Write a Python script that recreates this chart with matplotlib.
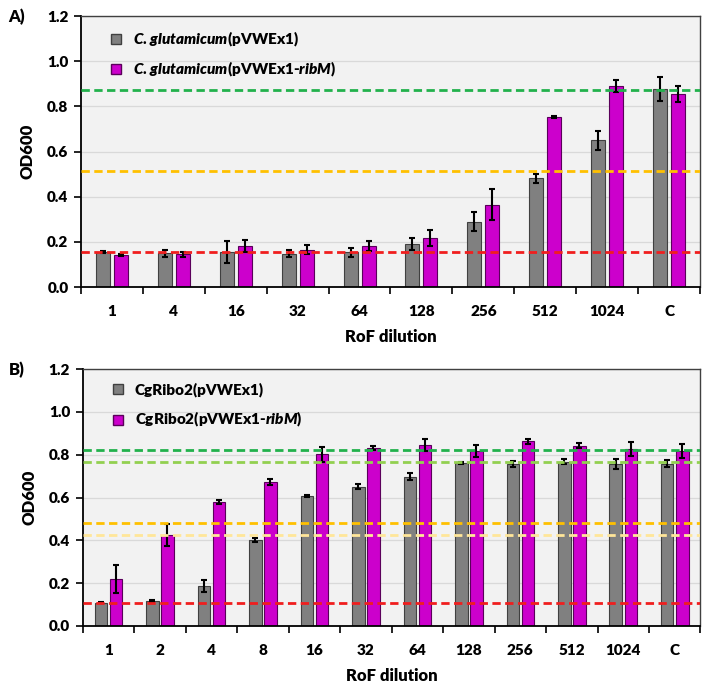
import numpy as np
import matplotlib.pyplot as plt
from matplotlib.lines import Line2D

plt.rcParams["font.family"] = ["Lato", "DejaVu Sans"]
plt.rcParams["font.weight"] = "heavy"
plt.rcParams["axes.labelweight"] = "heavy"
plt.rcParams["mathtext.fontset"] = "custom"
plt.rcParams["mathtext.it"] = "Lato:italic:heavy"
plt.rcParams["mathtext.rm"] = "Lato:heavy"

# panel A data
cats_a = ["1", "4", "16", "32", "64", "128", "256", "512", "1024", "C"]
ctrl_a = [0.155, 0.15, 0.155, 0.148, 0.155, 0.19, 0.29, 0.481, 0.649, 0.876]
ctrl_a_err = [0.005, 0.015, 0.05, 0.017, 0.02, 0.026, 0.04, 0.02, 0.043, 0.054]
ribm_a = [0.141, 0.145, 0.182, 0.166, 0.181, 0.218, 0.364, 0.754, 0.889, 0.855]
ribm_a_err = [0.005, 0.012, 0.028, 0.02, 0.023, 0.035, 0.068, 0.005, 0.027, 0.037]
hlines_a = [0.874, 0.514, 0.153]
hcolors_a = ["#22b14c", "#ffc000", "#f01e1e"]

# panel B data
cats_b = ["1", "2", "4", "8", "16", "32", "64", "128", "256", "512", "1024", "C"]
ctrl_b = [0.109, 0.115, 0.187, 0.402, 0.606, 0.651, 0.698, 0.76, 0.757, 0.768, 0.757, 0.757]
ctrl_b_err = [0.003, 0.005, 0.027, 0.008, 0.005, 0.01, 0.016, 0.005, 0.014, 0.012, 0.022, 0.016]
ribm_b = [0.218, 0.425, 0.578, 0.673, 0.801, 0.831, 0.846, 0.815, 0.862, 0.842, 0.827, 0.817]
ribm_b_err = [0.065, 0.05, 0.008, 0.015, 0.034, 0.01, 0.027, 0.028, 0.01, 0.012, 0.034, 0.034]
hlines_b = [0.823, 0.764, 0.48, 0.425, 0.106]
hcolors_b = ["#22b14c", "#92d050", "#ffc000", "#ffe699", "#f01e1e"]

GRAY = "#808080"
MAG = "#cc00cc"


def draw_panel(ax, cats, ctrl, ctrl_err, ribm, ribm_err, hl, hc, labels, width, off, lspace):
    x = np.arange(len(cats))
    ax.set_facecolor("#f2f2f2")
    ax.set_axisbelow(True)
    ax.grid(axis="y", color="#d9d9d9", linewidth=0.9)
    ek = dict(ecolor="black", elinewidth=1.5, capsize=2.5, capthick=1.5)
    ax.bar(x - off, ctrl, width, yerr=ctrl_err, color=GRAY, edgecolor="#404040",
           linewidth=0.8, error_kw=ek, zorder=2)
    ax.bar(x + off, ribm, width, yerr=ribm_err, color=MAG, edgecolor="#5a005a",
           linewidth=0.8, error_kw=ek, zorder=2)
    for v, c in zip(hl, hc):
        ax.axhline(v, color=c, linestyle=(0, (3, 1.6)), linewidth=2, zorder=3)
    ax.set_xlim(-0.5, len(cats) - 0.5)
    ax.set_ylim(0, 1.2)
    ax.set_yticks(np.arange(0, 1.21, 0.2))
    ax.set_yticklabels([f"{v:.1f}" for v in np.arange(0, 1.21, 0.2)], fontsize=11)
    ax.set_xticks(x)
    ax.set_xticklabels(cats, fontsize=11)
    ax.set_xticks(np.arange(-0.5, len(cats)), minor=True)
    ax.tick_params(axis="x", which="major", length=0, pad=13)
    ax.tick_params(axis="x", which="minor", length=5, width=1.2, direction="out")
    ax.tick_params(axis="y", length=5, width=1.2, direction="out", pad=4)
    for s in ["left", "bottom"]:
        ax.spines[s].set_linewidth(1.3)
    for s in ["top", "right"]:
        ax.spines[s].set_color("#404040")
        ax.spines[s].set_linewidth(1.0)
    ax.set_ylabel("OD600", fontsize=12, labelpad=8)
    ax.set_xlabel("RoF dilution", fontsize=12, labelpad=8)
    handles = [
        Line2D([], [], marker="s", linestyle="none", markersize=6.5,
               markerfacecolor=GRAY, markeredgecolor="#404040"),
        Line2D([], [], marker="s", linestyle="none", markersize=6.5,
               markerfacecolor=MAG, markeredgecolor="#5a005a"),
    ]
    ax.legend(handles, labels, loc="upper left", frameon=False,
              fontsize=11, handletextpad=0.1, labelspacing=lspace,
              bbox_to_anchor=(0.01, 1.0), borderaxespad=0.5)


fig = plt.figure(figsize=(7.09, 6.96), dpi=100)
ax_a = fig.add_axes([0.1142, 0.5876, 0.8731, 0.3894])
ax_b = fig.add_axes([0.1166, 0.1006, 0.8714, 0.3692])

draw_panel(ax_a, cats_a, ctrl_a, ctrl_a_err, ribm_a, ribm_a_err, hlines_a, hcolors_a,
           [r"$C$. $glutamicum$(pVWEx1)", r"$C$. $glutamicum$(pVWEx1-$ribM$)"],
           0.226, 0.145, 0.75)
draw_panel(ax_b, cats_b, ctrl_b, ctrl_b_err, ribm_b, ribm_b_err, hlines_b, hcolors_b,
           ["CgRibo2(pVWEx1)", r"CgRibo2(pVWEx1-$ribM$)"],
           0.243, 0.146, 0.85)

fig.text(0.012, 0.975, "A)", fontsize=12, va="center")
fig.text(0.012, 0.468, "B)", fontsize=12, va="center")

fig.savefig("out.png", dpi=100)
